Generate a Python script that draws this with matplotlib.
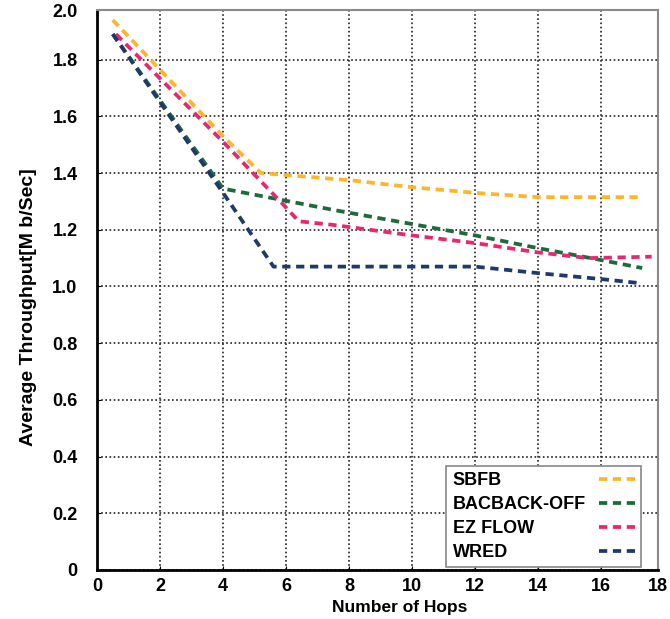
import numpy as np
import matplotlib; matplotlib.use("Agg")
import matplotlib.pyplot as plt

# series (x = number of hops, y = Mb/s)
sbfb_x = [0.5, 4.0, 5.2, 8.0, 10.0, 12.0, 14.0, 17.2]
sbfb_y = [1.94, 1.53, 1.40, 1.375, 1.35, 1.33, 1.315, 1.315]

back_x = [0.5, 4.0, 7.5, 10.0, 12.0, 14.0, 16.0, 17.3]
back_y = [1.89, 1.345, 1.27, 1.22, 1.18, 1.135, 1.093, 1.065]

ez_x = [0.6, 4.0, 5.9, 6.4, 7.5, 10.0, 12.0, 14.0, 15.6, 17.6]
ez_y = [1.89, 1.51, 1.29, 1.23, 1.217, 1.18, 1.153, 1.12, 1.10, 1.105]

wred_x = [0.5, 4.0, 5.6, 8.0, 12.0, 14.0, 16.0, 17.2]
wred_y = [1.89, 1.33, 1.07, 1.07, 1.07, 1.047, 1.026, 1.012]

series = [("SBFB", sbfb_x, sbfb_y, "#FDB52A"),
          ("BACBACK-OFF", back_x, back_y, "#1D6A3A"),
          ("EZ FLOW", ez_x, ez_y, "#E8276F"),
          ("WRED", wred_x, wred_y, "#1F3A6A")]

xticks = [0, 2, 4, 6, 8, 10, 12, 14, 16, 17.8]
xtick_labels = ["0", "2", "4", "6", "8", "10", "12", "14", "16", "18"]
yticks = [0, 0.2, 0.4, 0.6, 0.8, 1.0, 1.2, 1.4, 1.6, 1.8, 1.975]
ytick_labels = ["0", "0.2", "0.4", "0.6", "0.8", "1.0", "1.2", "1.4", "1.6", "1.8", "2.0"]

plt.rcParams["font.family"] = ["Liberation Sans", "DejaVu Sans"]
plt.rcParams["font.weight"] = "bold"

fig = plt.figure(figsize=(6.7, 6.19), dpi=100)
ax = fig.add_axes([0.1448, 0.0792, 0.8372, 0.9046])

for name, xs, ys, col in series:
    ax.plot(xs, ys, color=col, lw=2.7, ls=(0, (2.2, 1.5)), label=name,
            dash_capstyle="butt")

ax.set_xlim(0, 17.8)
ax.set_ylim(0, 1.975)
ax.set_xticks(xticks)
ax.set_xticklabels(xtick_labels)
ax.set_yticks(yticks)
ax.set_yticklabels(ytick_labels)
ax.tick_params(axis="both", direction="in", length=3, labelsize=13, color="k")
ax.tick_params(axis="y", pad=14)
ax.tick_params(axis="x", pad=6)

ax.grid(True, color="#222", lw=1.2, ls=(0, (1, 1.5)))
ax.set_axisbelow(True)

for side in ("left", "bottom"):
    ax.spines[side].set_linewidth(2.0)
    ax.spines[side].set_color("k")
for side in ("top", "right"):
    ax.spines[side].set_linewidth(1.5)
    ax.spines[side].set_color("#8a8a8a")

ax.set_xlabel("Number of Hops", fontsize=12.5, fontweight="bold")
ax.xaxis.set_label_coords(0.54, -0.054)
ax.set_ylabel("Average Throughput[M b/Sec]", fontsize=14, fontweight="bold")
ax.yaxis.set_label_coords(-0.107, 0.47)

leg = ax.legend(loc="lower right", bbox_to_anchor=(0.97, 0.005), markerfirst=False,
                fontsize=13, handlelength=2.0, handletextpad=0.4, labelspacing=0.38,
                borderpad=0.35, borderaxespad=0.0, fancybox=False, framealpha=1,
                edgecolor="#888")
leg.get_frame().set_linewidth(1.2)
# labels flush left, dashes flush right (as in the reference)
for col in leg._legend_handle_box.get_children():
    for row in col.get_children():
        row.width = 182
        row.mode = "expand"

fig.savefig("out.png", dpi=100)
